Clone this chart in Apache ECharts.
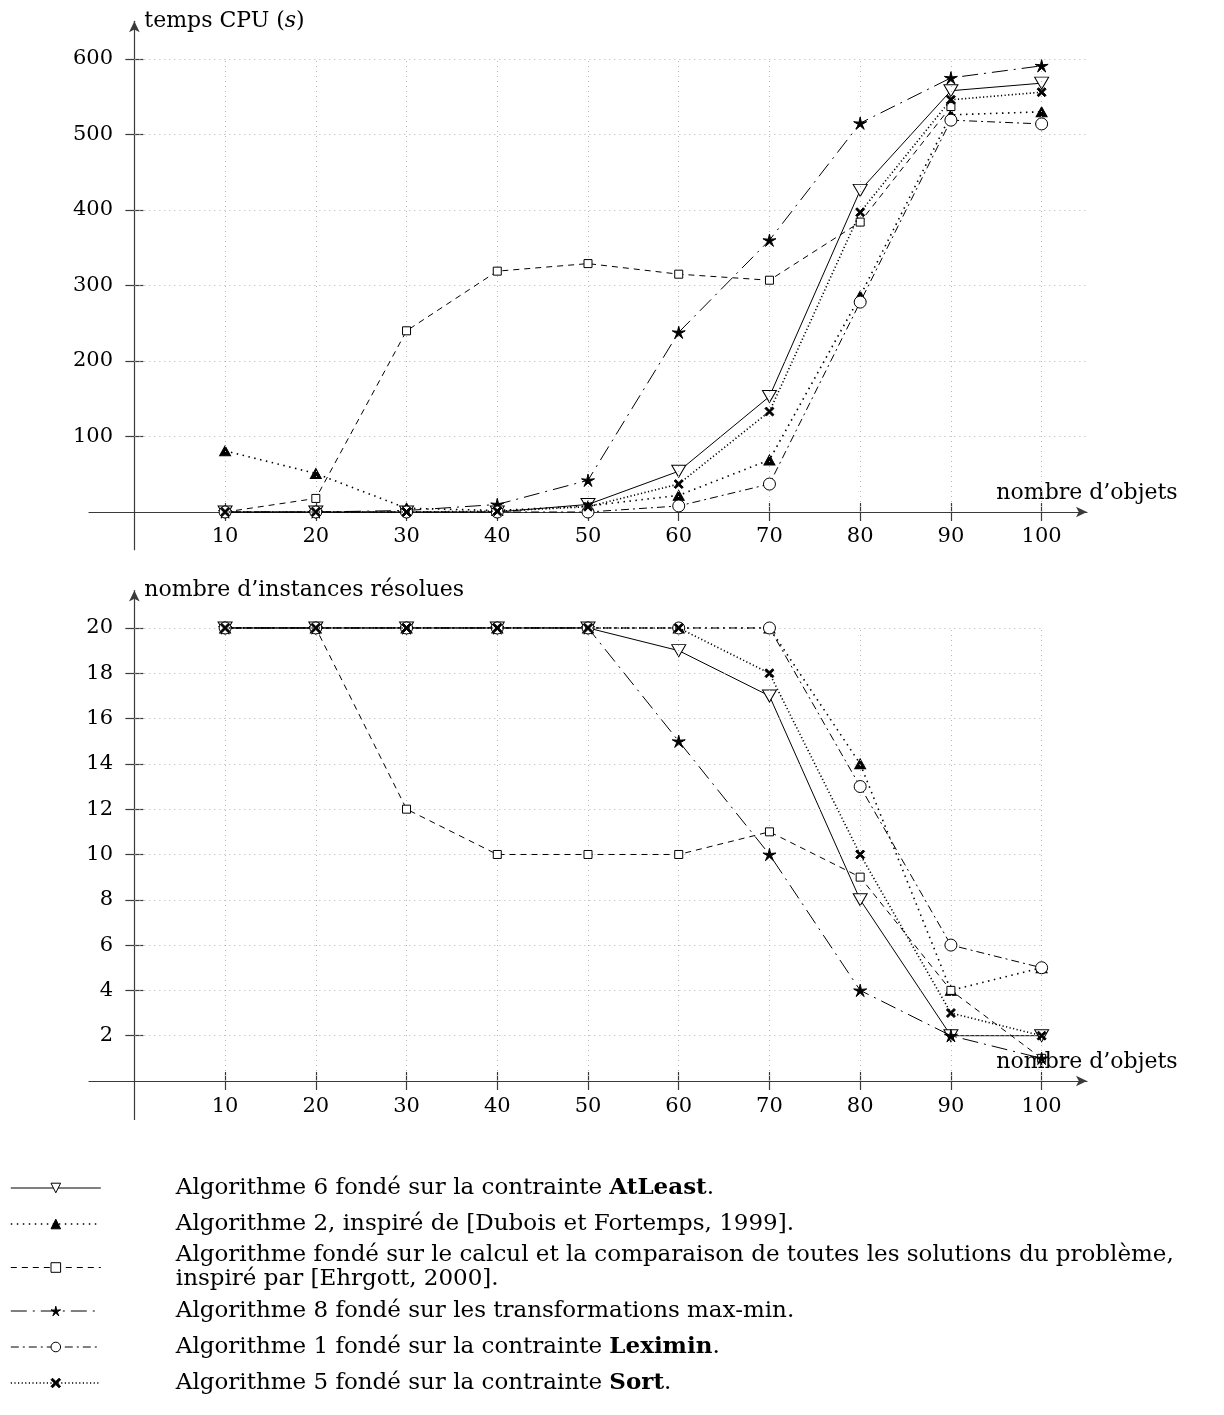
<!DOCTYPE html>
<html><head><meta charset="utf-8">
<script src="https://cdn.jsdelivr.net/npm/echarts@6/dist/echarts.min.js"></script>
<style>html,body{margin:0;padding:0;background:#fff}#c{width:1224px;height:1415px}</style>
</head><body><div id="c"></div>
<script>
// ---------- data ----------
const nbObjets = [10, 20, 30, 40, 50, 60, 70, 80, 90, 100];
const cpuTicks = [100, 200, 300, 400, 500, 600];
const resoluesTicks = [2, 4, 6, 8, 10, 12, 14, 16, 18, 20];
const seriesNames = ['Algorithme 6', 'Algorithme 2', 'Ehrgott', 'Algorithme 8', 'Algorithme 1', 'Algorithme 5'];

// temps CPU (s)
const cpuAlgo6    = [0, 0, 0, 0, 10, 54, 153, 426, 558, 568];
const cpuAlgo2    = [81, 51, 5, 2, 8, 22, 69, 286, 526, 530];
const cpuEhrgott  = [0, 18, 240, 319, 329, 315, 307, 384, 537, null];
const cpuAlgo8    = [0, 0, 2, 10, 42, 238, 360, 515, 575, 591];
const cpuAlgo1    = [0, 0, 0, 0, 0, 8, 37, 278, 519, 514];
const cpuAlgo5    = [0, 0, 0, 1, 7, 37, 133, 397, 546, 556];

// nombre d'instances résolues
const resAlgo6    = [20, 20, 20, 20, 20, 19, 17, 8, 2, 2];
const resAlgo2    = [20, 20, 20, 20, 20, 20, 20, 14, 4, 5];
const resEhrgott  = [20, 20, 12, 10, 10, 10, 11, 9, 4, 1];
const resAlgo8    = [20, 20, 20, 20, 20, 15, 10, 4, 2, 1];
const resAlgo1    = [20, 20, 20, 20, 20, 20, 20, 13, 6, 5];
const resAlgo5    = [20, 20, 20, 20, 20, 20, 18, 10, 3, 2];

const cpuData = [cpuAlgo6, cpuAlgo2, cpuEhrgott, cpuAlgo8, cpuAlgo1, cpuAlgo5];
const resData = [resAlgo6, resAlgo2, resEhrgott, resAlgo8, resAlgo1, resAlgo5];

// ---------- styles ----------
const FONT = 'DejaVu Serif';
const FS = 21;
const FS_NAME = 22;
const FS_LEG = 23;
function starPath(n, rIn) {
  let d = 'path://';
  for (let i = 0; i < 2 * n; i++) {
    const a = -Math.PI / 2 + i * Math.PI / n;
    const r = i % 2 === 0 ? 10 : 10 * rIn;
    d += (i === 0 ? 'M' : 'L') + (10 + r * Math.cos(a)).toFixed(2) + ' ' + (10 + r * Math.sin(a)).toFixed(2) + ' ';
  }
  return d + 'Z';
}
const crossPath = 'path://M0 1.6L1.6 0L5 3.4L8.4 0L10 1.6L6.6 5L10 8.4L8.4 10L5 6.6L1.6 10L0 8.4L3.4 5Z';
const styles = {
  'Algorithme 6': { symbol: 'triangle', rotate: 180, size: [14, 12], fill: '#fff', dash: 'solid', width: 1 },
  'Algorithme 2': { symbol: 'triangle', rotate: 0, size: [11, 10], fill: '#000', dash: [1.5, 4.5], width: 1.6 },
  'Ehrgott':      { symbol: 'rect', rotate: 0, size: 8, fill: '#fff', dash: [6, 5], width: 1 },
  'Algorithme 8': { symbol: starPath(5, 0.3), rotate: 0, size: 13, fill: '#000', dash: [16, 6, 2, 6], width: 1 },
  'Algorithme 1': { symbol: 'circle', rotate: 0, size: 12, fill: '#fff', dash: [8, 4, 2, 4], width: 1 },
  'Algorithme 5': { symbol: crossPath, rotate: 0, size: 9, fill: '#000', dash: [1.2, 2.4], width: 1.6 }
};

const legendTexts = {
  'Algorithme 6': '{sp|}{n|Algorithme 6 fondé sur la contrainte }{b|AtLeast}{n|.}',
  'Algorithme 2': '{sp|}{n|Algorithme 2, inspiré de [Dubois et Fortemps, 1999].}',
  'Ehrgott': '{sp|}{n|Algorithme fondé sur le calcul et la comparaison de toutes les solutions du problème,}\n{sp|}{n|inspiré par [Ehrgott, 2000].}',
  'Algorithme 8': '{sp|}{n|Algorithme 8 fondé sur les transformations max-min.}',
  'Algorithme 1': '{sp|}{n|Algorithme 1 fondé sur la contrainte }{b|Leximin}{n|.}',
  'Algorithme 5': '{sp|}{n|Algorithme 5 fondé sur la contrainte }{b|Sort}{n|.}'
};

// ---------- axes helpers ----------
const AXIS_COLOR = '#3a3a3a';
const labelStyle = { fontFamily: FONT, fontSize: FS, color: '#000' };
function xAxes(gridIndex, min, max, nameText, labelMargin) {
  return [{
    type: 'value', gridIndex, min, max, position: 'bottom',
    name: nameText, nameLocation: 'end', nameGap: 0, nameMoveOverlap: false,
    nameTextStyle: { fontFamily: FONT, fontSize: FS_NAME, color: '#000', align: 'center', verticalAlign: 'bottom', padding: [0, 0, 8, 0] },
    axisLine: { show: true, onZero: true, symbol: ['none', 'arrow'], symbolSize: [8, 11], lineStyle: { color: AXIS_COLOR, width: 1.2 } },
    axisTick: { show: true, inside: false, length: 9, customValues: nbObjets, lineStyle: { color: AXIS_COLOR, width: 1.2 } },
    axisLabel: Object.assign({ show: true, margin: labelMargin, customValues: nbObjets }, labelStyle),
    splitLine: { show: false }
  }, {
    type: 'value', gridIndex, min, max, position: 'bottom',
    axisLine: { show: false, onZero: true },
    axisTick: { show: true, inside: true, length: 9, customValues: nbObjets, lineStyle: { color: AXIS_COLOR, width: 1.2 } },
    axisLabel: { show: false },
    splitLine: { show: false }
  }];
}
function yAxes(gridIndex, min, max, ticks, nameRich, labelMargin) {
  return [{
    type: 'value', gridIndex, min, max, position: 'left',
    name: nameRich, nameLocation: 'end', nameGap: 0, nameMoveOverlap: false,
    nameTextStyle: { fontFamily: FONT, fontSize: FS_NAME, color: '#000', align: 'left', verticalAlign: 'middle', padding: [0, 0, 0, 10],
      rich: { n: { fontFamily: FONT, fontSize: FS_NAME, color: '#000' }, i: { fontFamily: FONT, fontSize: FS_NAME, fontStyle: 'italic', color: '#000' } } },
    axisLine: { show: true, onZero: true, symbol: ['none', 'arrow'], symbolSize: [8, 11], lineStyle: { color: AXIS_COLOR, width: 1.2 } },
    axisTick: { show: true, inside: false, length: 9, customValues: ticks, lineStyle: { color: AXIS_COLOR, width: 1.2 } },
    axisLabel: Object.assign({ show: true, margin: labelMargin, customValues: ticks }, labelStyle),
    splitLine: { show: false }
  }, {
    type: 'value', gridIndex, min, max, position: 'left',
    axisLine: { show: false, onZero: true },
    axisTick: { show: true, inside: true, length: 9, customValues: ticks, lineStyle: { color: AXIS_COLOR, width: 1.2 } },
    axisLabel: { show: false },
    splitLine: { show: false }
  }];
}

function gridLines(xAxisIndex, yAxisIndex, yTicks, xEnd, yEnd) {
  const data = [];
  yTicks.forEach(v => data.push([{ coord: [0, v] }, { coord: [xEnd, v] }]));
  nbObjets.forEach(v => data.push([{ coord: [v, 0] }, { coord: [v, yEnd] }]));
  return {
    type: 'line', name: 'grille', xAxisIndex, yAxisIndex, data: [], silent: true, z: 0,
    markLine: { silent: true, symbol: ['none', 'none'], label: { show: false }, animation: false,
      lineStyle: { color: '#b5b5b5', type: [1, 4], width: 1 }, emphasis: { disabled: true }, data }
  };
}

function dataSeries(values, xAxisIndex, yAxisIndex) {
  return seriesNames.map((name, k) => {
    const s = styles[name];
    return {
      type: 'line', name, xAxisIndex, yAxisIndex,
      data: nbObjets.map((x, i) => [x, values[k][i]]),
      symbol: s.symbol, symbolSize: s.size, symbolRotate: s.rotate, symbolKeepAspect: true, showSymbol: true,
      connectNulls: false, z: 3 + k,
      lineStyle: { color: '#000', width: s.width, type: s.dash },
      itemStyle: { color: s.fill, borderColor: '#000', borderWidth: 1 },
      emphasis: { disabled: true }
    };
  });
}

const richLegend = {
  sp: { width: 70, fontFamily: FONT, fontSize: FS_LEG },
  n:  { fontFamily: FONT, fontSize: FS_LEG, color: '#000' },
  b:  { fontFamily: FONT, fontSize: FS_LEG, fontWeight: 'bold', color: '#000' }
};

const option = {
  animation: false,
  backgroundColor: '#fff',
  grid: [
    { left: 89, right: 137, top: 21.25, height: 528.5, outerBoundsMode: 'none', containLabel: false },
    { left: 89, right: 137, top: 590.6, height: 528.9, outerBoundsMode: 'none', containLabel: false }
  ],
  xAxis: [].concat(
    xAxes(0, -5, 105, 'nombre d\u2019objets', -24),
    xAxes(1, -5, 105, 'nombre d\u2019objets', -23)
  ),
  yAxis: [].concat(
    yAxes(0, -50, 650, cpuTicks, '{n|temps CPU (}{i|s}{n|)}', -24),
    yAxes(1, -1.7, 21.65, resoluesTicks, '{n|nombre d\u2019instances résolues}', -24)
  ),
  legend: {
    orient: 'vertical', left: 10, top: 1171.5, padding: 0, itemGap: 3,
    itemWidth: 90, itemHeight: 12,
    data: seriesNames.map(name => ({ name, textStyle: { lineHeight: name === 'Ehrgott' ? 24 : 33 } })),
    itemStyle: { borderWidth: 1 },
    lineStyle: { width: 'inherit' },
    textStyle: { fontFamily: FONT, fontSize: FS_LEG, color: '#000', lineHeight: 33, rich: richLegend },
    formatter: name => legendTexts[name]
  },
  series: [].concat(
    [gridLines(0, 0, cpuTicks, 105, 600)],
    dataSeries(cpuData, 0, 0),
    [gridLines(2, 2, resoluesTicks, 100, 20)],
    dataSeries(resData, 2, 2)
  )
};

const chart = echarts.init(document.getElementById('c'), null, { renderer: 'canvas' });
chart.setOption(option);
</script>
</body></html>
